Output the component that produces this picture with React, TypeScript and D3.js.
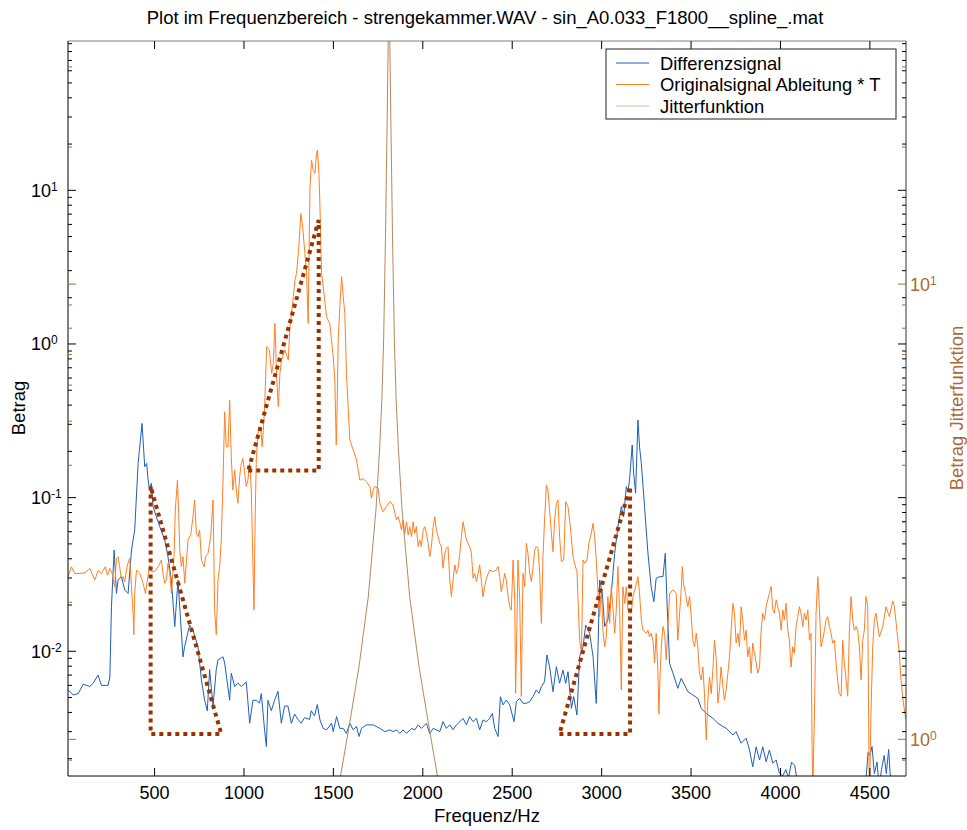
import React from 'react';
import * as d3 from 'd3';

const W = 967;
const H = 830;
const PLOT = { left: 68, right: 906, top: 41, bottom: 776 };

const X_DOMAIN: [number, number] = [16, 4702];
const Y_LEFT_DOMAIN: [number, number] = [0.001543, 93.7];
const Y_RIGHT_DOMAIN: [number, number] = [0.8307, 34.2];

const X_TICKS = [500, 1000, 1500, 2000, 2500, 3000, 3500, 4000, 4500];
const LEFT_DECADES = [-2, -1, 0, 1];
const RIGHT_DECADES = [0, 1];

const TITLE = 'Plot im Frequenzbereich - strengekammer.WAV - sin_A0.033_F1800__spline_.mat';
const X_LABEL = 'Frequenz/Hz';
const Y_LEFT_LABEL = 'Betrag';
const Y_RIGHT_LABEL = 'Betrag Jitterfunktion';
const SERIES_NAMES = ['Differenzsignal', 'Originalsignal Ableitung * T', 'Jitterfunktion'];

// Differenzsignal (left axis)
const DIFF_FREQ = [
  17, 45, 73, 101, 138, 157, 184, 203, 240, 250,
  259, 274, 287, 296, 315, 333, 352, 371, 389, 408,
  430, 445, 456, 464, 473, 482, 492, 510, 529, 557,
  575, 594, 613, 631, 659, 668, 696, 715, 743, 762,
  780, 795, 808, 827, 845, 855, 883, 892, 920, 929,
  948, 966, 985, 1013, 1032, 1050, 1069, 1087, 1097, 1115,
  1125, 1134, 1153, 1171, 1190, 1209, 1227, 1246, 1265, 1283,
  1302, 1320, 1339, 1367, 1376, 1395, 1410,
  1425, 1443, 1462, 1490, 1499, 1518, 1536, 1555, 1573, 1592,
  1611, 1629, 1644, 1657, 1685, 1722, 1760, 1788, 1816, 1834,
  1853, 1871, 1890, 1909, 1937, 1955, 1974, 1992, 2020, 2039,
  2058, 2076, 2095, 2113, 2132, 2151, 2169, 2188, 2207, 2225,
  2244, 2262, 2281, 2300, 2318, 2337, 2356, 2374, 2389, 2402,
  2421, 2434, 2449, 2467, 2486, 2510, 2523, 2542, 2560, 2579,
  2598, 2616, 2635, 2650, 2663, 2681, 2694, 2709, 2728, 2747,
  2765, 2784, 2799, 2812, 2831, 2844, 2862, 2877, 2896, 2911,
  2933, 2952, 2970, 2980, 2989, 3004, 3017, 3035, 3054, 3073,
  3091, 3110, 3123, 3138, 3147, 3156, 3171, 3179, 3190, 3203,
  3212, 3222, 3240, 3259, 3277, 3292, 3305, 3324, 3343, 3356,
  3365, 3380, 3399, 3426, 3445, 3464, 3482, 3510, 3538, 3557,
  3585, 3622, 3650, 3678, 3696, 3734, 3752, 3780, 3808, 3827,
  3845, 3864, 3883, 3901, 3920, 3938, 3957, 3976, 3994, 4013,
  4030, 4045, 4062, 4080, 4095, 4120, 4160, 4200, 4250, 4300,
  4350, 4400, 4450, 4475, 4490, 4500, 4512, 4525, 4540, 4552,
  4565, 4580, 4592, 4605, 4618, 4650, 4700,
];
const DIFF_VAL = [
  0.0056, 0.0052, 0.0053, 0.0061, 0.0059, 0.0062, 0.0070, 0.0060, 0.0060, 0.0068,
  0.0195, 0.0456, 0.0238, 0.0291, 0.0306, 0.0251, 0.0238, 0.0456, 0.0615, 0.167,
  0.304, 0.159, 0.167, 0.130, 0.112, 0.124, 0.0873, 0.0751, 0.0647, 0.053,
  0.0413, 0.0291, 0.0145, 0.0291, 0.0092, 0.0107, 0.0148, 0.0137, 0.0107, 0.0065,
  0.0048, 0.0041, 0.0076, 0.0044, 0.0076, 0.0088, 0.0092, 0.0084, 0.0048, 0.0072,
  0.0059, 0.0062, 0.0059, 0.0063, 0.0034, 0.0048, 0.0048, 0.0046, 0.0053, 0.0031,
  0.0024, 0.0048, 0.0041, 0.0048, 0.0055, 0.0034, 0.0044, 0.0044, 0.0034, 0.0039,
  0.0036, 0.0034, 0.0037, 0.0036, 0.0041, 0.0038, 0.0045,
  0.00357, 0.00315, 0.00308, 0.0034, 0.003, 0.00376, 0.00315, 0.00315, 0.00292, 0.0034,
  0.00308, 0.00324, 0.00279, 0.00315, 0.00332, 0.00332, 0.00315, 0.003, 0.00308, 0.003,
  0.00308, 0.00292, 0.00308, 0.00292, 0.00315, 0.00308, 0.00332, 0.00315, 0.0034, 0.00292,
  0.00315, 0.00308, 0.003, 0.00348, 0.00315, 0.00332, 0.00308, 0.00332, 0.00348, 0.00366,
  0.00332, 0.00376, 0.00348, 0.00366, 0.00308, 0.00357, 0.00348, 0.00366, 0.00394, 0.00315,
  0.00279, 0.00507, 0.00448, 0.00482, 0.00448, 0.00348, 0.0047, 0.00494, 0.00459, 0.00459,
  0.0047, 0.00507, 0.0056, 0.00533, 0.00589, 0.00634, 0.00946, 0.00794, 0.00546, 0.00794,
  0.0062, 0.00755, 0.00618, 0.00736, 0.00425, 0.00507, 0.00385, 0.00923, 0.0107, 0.0148,
  0.0131, 0.00923, 0.00458, 0.0107, 0.0291, 0.0238, 0.0145, 0.016, 0.0238, 0.0434,
  0.0647, 0.0873, 0.0751, 0.118, 0.109, 0.130, 0.22, 0.144, 0.107, 0.32,
  0.214, 0.167, 0.0873, 0.0434, 0.0263, 0.021, 0.0299, 0.0306, 0.0306, 0.0434,
  0.0216, 0.00835, 0.0072, 0.00574, 0.00667, 0.00603, 0.00546, 0.0052, 0.00494, 0.00425,
  0.00394, 0.00366, 0.0034, 0.00324, 0.00316, 0.00285, 0.003, 0.00252, 0.00272, 0.00228,
  0.00177, 0.00239, 0.00196, 0.00239, 0.00191, 0.00228, 0.00187, 0.00196, 0.00161, 0.00155,
  0.0017, 0.0015, 0.0019, 0.0018, 0.0014, 0.0013, 0.0012, 0.0013, 0.0012, 0.0011,
  0.0012, 0.0011, 0.0012, 0.0013, 0.0022, 0.0021, 0.0024, 0.0016, 0.0019, 0.0013,
  0.0017, 0.0021, 0.0016, 0.0023, 0.0013, 0.0011, 0.0012,
];

// Originalsignal Ableitung * T (left axis)
const ORIG_FREQ = [
  17, 35, 54, 82, 110, 138, 166, 184, 203, 225,
  237, 250, 263, 277, 287, 296, 305, 315, 324, 333,
  348, 361, 371, 380, 384, 389, 399, 417, 436, 449,
  464, 473, 482, 501, 520, 538, 547, 557, 566, 575,
  585, 594, 609, 616, 628, 635, 641, 650, 659, 669,
  687, 702, 715, 724, 734, 743, 752, 762, 777, 786,
  799, 814, 827, 836, 845, 855, 864, 873, 883, 892,
  901, 911, 920, 929, 938, 948, 957, 966, 976, 985,
  994, 1004, 1013, 1022, 1032, 1041, 1050, 1056, 1063, 1069,
  1078, 1093, 1102, 1115,
  1127, 1142, 1155, 1164, 1173, 1182, 1192, 1201, 1210, 1229,
  1238, 1248, 1257, 1266, 1276, 1285, 1294, 1307, 1318, 1328,
  1341, 1350, 1359, 1369, 1378, 1387, 1397, 1406, 1411, 1419,
  1424, 1434, 1443, 1462, 1480, 1499, 1508, 1516, 1521, 1527,
  1536, 1546, 1555, 1564, 1573, 1592,
  1611, 1629, 1648, 1667, 1685, 1704, 1713, 1722, 1732, 1750,
  1760, 1778, 1797, 1816, 1834, 1853, 1862, 1871, 1881, 1890,
  1899, 1909, 1918, 1927, 1937, 1946, 1955, 1964, 1974, 1983,
  1992, 2002, 2011, 2020, 2030, 2039, 2048, 2058, 2067, 2076,
  2095, 2104, 2113, 2123, 2132, 2141, 2151, 2160, 2169, 2179,
  2188, 2197, 2207, 2216, 2225, 2244, 2262, 2272, 2281, 2290,
  2300, 2309, 2318, 2328, 2337, 2346, 2356, 2374, 2393, 2411,
  2421, 2430, 2439, 2449, 2458, 2467, 2477, 2486, 2495, 2505,
  2514, 2519, 2527, 2532, 2542, 2551, 2560, 2570, 2579, 2588,
  2598, 2607, 2616, 2626, 2635, 2644, 2654, 2663, 2672, 2681,
  2691, 2700, 2709, 2719, 2728, 2737, 2747, 2756, 2765,
  2775, 2788, 2799, 2812, 2825, 2840, 2849, 2862, 2877, 2887,
  2896, 2905, 2918, 2929, 2942, 2952, 2961, 2970, 2980, 2989,
  2998, 3007, 3017, 3026, 3035, 3045, 3054, 3063, 3073, 3082,
  3091, 3101, 3110, 3119, 3129, 3138, 3147, 3156, 3166, 3175,
  3190, 3203, 3212, 3222, 3231, 3250, 3259, 3268, 3277, 3287,
  3296, 3305, 3315, 3320, 3328, 3335, 3343, 3352, 3361, 3371,
  3380, 3399, 3417, 3426, 3436, 3445, 3451, 3458, 3469, 3482,
  3492, 3501, 3510, 3520, 3529, 3538, 3547, 3557, 3566, 3575,
  3585, 3594, 3603, 3613, 3622, 3631, 3641, 3650, 3659, 3668,
  3678, 3687, 3696, 3706, 3715, 3724, 3734, 3743, 3752, 3762,
  3771, 3780, 3789, 3799, 3808, 3817, 3827, 3836, 3845, 3855,
  3864, 3873, 3883, 3892, 3901, 3911, 3920, 3929, 3938, 3948,
  3957, 3966, 3976, 3985, 3994, 4004, 4013, 4022, 4031, 4041,
  4050, 4059, 4069, 4078, 4087, 4097, 4106, 4115, 4125, 4134,
  4143, 4153, 4162, 4171, 4177, 4181, 4186, 4190, 4199, 4209,
  4218, 4227, 4236, 4246, 4255, 4264, 4274, 4283, 4292, 4302,
  4311, 4320, 4329, 4339, 4348, 4357, 4367, 4376, 4385, 4395,
  4404, 4413, 4423, 4432, 4441, 4451, 4460, 4469, 4478, 4488,
  4493, 4497, 4503, 4506, 4516, 4525, 4534, 4553, 4572, 4590,
  4609, 4628, 4637, 4655, 4665, 4674, 4683, 4696, 4702,
];
const ORIG_VAL = [
  0.0306, 0.0355, 0.0321, 0.0321, 0.0324, 0.0346, 0.0291, 0.0335, 0.0321, 0.0355,
  0.0313, 0.0346, 0.0321, 0.0263, 0.0402, 0.0413, 0.0355, 0.0291, 0.0306, 0.0284,
  0.0364, 0.0402, 0.0263, 0.0177, 0.0128, 0.0238, 0.0338, 0.0321, 0.0277, 0.0238,
  0.0313, 0.0364, 0.033, 0.033, 0.0355, 0.0392, 0.0321, 0.0277, 0.0291, 0.0373,
  0.0321, 0.0238, 0.0413, 0.083, 0.130, 0.079, 0.0456, 0.0355, 0.0413, 0.0277,
  0.053, 0.0571, 0.0751, 0.0965, 0.0585, 0.0557, 0.0615, 0.0392, 0.0355, 0.0413,
  0.0434, 0.0557, 0.0965, 0.0186, 0.0128, 0.0291, 0.0355, 0.053, 0.130, 0.362,
  0.214, 0.214, 0.431, 0.185, 0.112, 0.151, 0.112, 0.0918, 0.137, 0.167,
  0.18, 0.144, 0.118, 0.130, 0.167, 0.112, 0.0373, 0.0186, 0.079, 0.176,
  0.262, 0.289, 0.214, 0.372,
  0.96, 0.912, 0.643, 0.747, 1.36, 0.643, 0.39, 0.643, 0.785, 0.912,
  0.847, 0.785, 1.29, 1.58, 2.03, 2.6, 2.88, 4.29, 7.06, 5.78,
  3.88, 2.88, 1.36, 10.5, 15.7, 13.5, 12.9, 17.4, 18.3, 12.9,
  8.63, 2.88, 2.36, 1.5, 1.36, 0.826, 0.582, 0.22, 0.39, 1.06,
  1.75, 2.74, 2.03, 1.58, 0.643, 0.237,
  0.204, 0.176, 0.130, 0.133, 0.127, 0.118, 0.0989, 0.112, 0.118, 0.115,
  0.0918, 0.081, 0.0873, 0.0942, 0.0895, 0.0715, 0.0751, 0.0697, 0.0615, 0.0715,
  0.0585, 0.0697, 0.0571, 0.0647, 0.0557, 0.0697, 0.0585, 0.0647, 0.048, 0.053,
  0.048, 0.0615, 0.0647, 0.0585, 0.0504, 0.0413, 0.048, 0.0647, 0.0751, 0.0615,
  0.0504, 0.048, 0.0347, 0.0434, 0.0468, 0.048, 0.0291, 0.0227, 0.0291, 0.0365,
  0.0321, 0.0347, 0.0434, 0.0557, 0.0697, 0.053, 0.048, 0.0434, 0.0299, 0.0321,
  0.0284, 0.0321, 0.0365, 0.0284, 0.0227, 0.0264, 0.0299, 0.0338, 0.033, 0.0338,
  0.0356, 0.0306, 0.0244, 0.0277, 0.0321, 0.0291, 0.0227, 0.0195, 0.0186, 0.0393,
  0.0216, 0.00534, 0.016, 0.0393, 0.0216, 0.00507, 0.0321, 0.0264, 0.0504, 0.0434,
  0.0321, 0.0284, 0.0347, 0.0456, 0.048, 0.0468, 0.0321, 0.0152, 0.0413, 0.0715,
  0.121, 0.112, 0.083, 0.0585, 0.0445, 0.0715, 0.0918, 0.0964, 0.0557,
  0.0383, 0.0393, 0.094, 0.0873, 0.0647, 0.0413, 0.0373, 0.033, 0.0118, 0.0097,
  0.0393, 0.0373, 0.0393, 0.0504, 0.0585, 0.068, 0.0557, 0.0393, 0.0238, 0.0168,
  0.0263, 0.0137, 0.0107, 0.0124, 0.0227, 0.0152, 0.0263, 0.0195, 0.0131, 0.0186,
  0.0356, 0.0177, 0.0056, 0.0263, 0.0205, 0.0263, 0.0186, 0.0177, 0.0177, 0.0227,
  0.0263, 0.0306, 0.0238, 0.016, 0.0137, 0.0131, 0.0137, 0.0124, 0.0131, 0.0118,
  0.0084, 0.0131, 0.0072, 0.0039, 0.0076, 0.0113, 0.0145, 0.0131, 0.0088, 0.0145,
  0.0238, 0.0251, 0.0238, 0.0118, 0.0177, 0.0251, 0.0356, 0.0275, 0.0238, 0.0195,
  0.0227, 0.0168, 0.0118, 0.0107, 0.0131, 0.0107, 0.0072, 0.0065, 0.0079, 0.0053,
  0.00265, 0.0048, 0.0068, 0.0053, 0.0076, 0.0118, 0.0088, 0.0046, 0.0056, 0.0079,
  0.0059, 0.0048, 0.0056, 0.0072, 0.0092, 0.0137, 0.0205, 0.0177, 0.0113, 0.0131,
  0.0107, 0.0195, 0.016, 0.0118, 0.0137, 0.0092, 0.0107, 0.0072, 0.0113, 0.0097,
  0.0084, 0.0072, 0.0079, 0.0137, 0.0177, 0.016, 0.0195, 0.0216, 0.0238, 0.0263,
  0.0186, 0.0177, 0.0216, 0.0195, 0.0177, 0.0137, 0.0186, 0.016, 0.0205, 0.0137,
  0.0118, 0.0079, 0.0107, 0.0097, 0.0145, 0.0168, 0.0195, 0.0177, 0.0145, 0.0177,
  0.016, 0.0186, 0.0118, 0.0131, 0.0024, 0.0011, 0.0024, 0.0039, 0.0177, 0.0306,
  0.0186, 0.0107, 0.0118, 0.0137, 0.016, 0.0168, 0.0145, 0.0131, 0.0113, 0.0118,
  0.0084, 0.0065, 0.0053, 0.0051, 0.0118, 0.0084, 0.0065, 0.0051, 0.0131, 0.0227,
  0.016, 0.0137, 0.0145, 0.0137, 0.0107, 0.0065, 0.0118, 0.0137, 0.0227, 0.0195,
  0.0039, 0.0011, 0.0024, 0.0039, 0.0107, 0.016, 0.0177, 0.0124, 0.0145, 0.0195,
  0.0168, 0.0213, 0.0195, 0.0124, 0.0097, 0.0065, 0.0051, 0.0039, 0.0036,
];

// Jitterfunktion (right axis)
const JITTER_FREQ = [
  1511, 1541, 1591, 1643, 1695, 1738, 1758, 1771, 1781, 1791, 1799, 1806,
  1811,
  1816, 1823, 1831, 1841, 1851, 1864, 1884, 1927, 1979, 2031, 2081, 2111,
];
const JITTER_VAL = [
  0.76, 0.835, 1.086, 1.442, 2.054, 3.19, 4.32, 5.56, 7.54, 12.5, 20.7, 32.7,
  45,
  32.7, 20.7, 12.5, 7.54, 5.56, 4.32, 3.19, 2.054, 1.442, 1.086, 0.835, 0.76,
];

// Dotted slope markers (left axis), drawn as closed triangles
const MARKERS = [
  { freq: [478, 478, 873, 478], val: [0.118, 0.0029, 0.0029, 0.118] },
  { freq: [1024, 1418, 1418, 1024], val: [0.15, 0.15, 6.4, 0.15] },
  { freq: [2764, 3159, 3159, 2764], val: [0.0029, 0.0029, 0.118, 0.0029] },
];

const COLORS = {
  diff: '#1f5fb5',
  orig: '#ff7f22',
  jitter: '#b8875a',
  jitterLegend: '#d6bba0',
  rightAxis: '#a86a34',
  marker: '#993300',
};

const FONT = '"Liberation Sans", Arial, Helvetica, sans-serif';
const TICK_FONT = 18;
const LABEL_FONT = 18.5;

export default function App() {
  const x = d3.scaleLinear().domain(X_DOMAIN).range([PLOT.left, PLOT.right]);
  const yL = d3.scaleLog().domain(Y_LEFT_DOMAIN).range([PLOT.bottom, PLOT.top]);
  const yR = d3.scaleLog().domain(Y_RIGHT_DOMAIN).range([PLOT.bottom, PLOT.top]);

  const lineL = d3
    .line<[number, number]>()
    .x((d) => x(d[0]))
    .y((d) => yL(d[1]));
  const lineR = d3
    .line<[number, number]>()
    .x((d) => x(d[0]))
    .y((d) => yR(d[1]));

  const diffPath = lineL(d3.zip(DIFF_FREQ, DIFF_VAL) as [number, number][]) || '';
  const origPath = lineL(d3.zip(ORIG_FREQ, ORIG_VAL) as [number, number][]) || '';
  const jitterPath = lineR(d3.zip(JITTER_FREQ, JITTER_VAL) as [number, number][]) || '';

  // log-axis tick positions: 2..9 subdivisions of each decade inside the domain
  const minorTicks = (domain: [number, number]) => {
    const out: number[] = [];
    const lo = Math.floor(Math.log10(domain[0]));
    const hi = Math.ceil(Math.log10(domain[1]));
    for (let k = lo; k <= hi; k++) {
      for (let m = 2; m <= 9; m++) {
        const v = m * Math.pow(10, k);
        if (v >= domain[0] && v <= domain[1]) out.push(v);
      }
    }
    return out;
  };
  const leftMinor = minorTicks(Y_LEFT_DOMAIN);
  const rightMinor = minorTicks(Y_RIGHT_DOMAIN);

  const MAJ = 8;
  const MIN = 4;

  return (
    <svg
      width={W}
      height={H}
      viewBox={`0 0 ${W} ${H}`}
      style={{ position: 'absolute', left: 0, top: 0, background: '#fff' }}
      fontFamily={FONT}
    >
      <rect x={0} y={0} width={W} height={H} fill="#fff" />
      <defs>
        <clipPath id="plot-clip">
          <rect x={PLOT.left} y={PLOT.top} width={PLOT.right - PLOT.left} height={PLOT.bottom - PLOT.top} />
        </clipPath>
      </defs>

      <text x={485} y={24} fontSize={18.5} textAnchor="middle" fill="#000">
        {TITLE}
      </text>

      {/* data */}
      <g clipPath="url(#plot-clip)" fill="none">
        <path d={diffPath} stroke={COLORS.diff} strokeWidth={1} />
        <path d={origPath} stroke={COLORS.orig} strokeWidth={1} />
        <path d={jitterPath} stroke={COLORS.jitter} strokeWidth={1} />
        {MARKERS.map((m, i) => (
          <path
            key={i}
            d={lineL(d3.zip(m.freq, m.val) as [number, number][]) || ''}
            stroke={COLORS.marker}
            strokeWidth={4}
            strokeDasharray="4 4"
          />
        ))}
      </g>

      {/* frame */}
      <line x1={PLOT.left} x2={PLOT.right} y1={PLOT.top} y2={PLOT.top} stroke="#808080" />
      <line x1={PLOT.left} x2={PLOT.right} y1={PLOT.bottom} y2={PLOT.bottom} stroke="#000" />
      <line x1={PLOT.left} x2={PLOT.left} y1={PLOT.top} y2={PLOT.bottom} stroke="#000" />
      <line x1={PLOT.right} x2={PLOT.right} y1={PLOT.top} y2={PLOT.bottom} stroke="#333" />

      {/* x ticks */}
      {X_TICKS.map((t) => (
        <g key={t}>
          <line x1={x(t)} x2={x(t)} y1={PLOT.bottom} y2={PLOT.bottom - MAJ} stroke="#000" />
          <line x1={x(t)} x2={x(t)} y1={PLOT.top} y2={PLOT.top + MAJ} stroke="#000" />
          <text x={x(t)} y={798.5} fontSize={TICK_FONT} textAnchor="middle" fill="#000">
            {t}
          </text>
        </g>
      ))}

      {/* left axis ticks, mirrored on the right edge */}
      {LEFT_DECADES.map((e) => {
        const yy = yL(Math.pow(10, e));
        return (
          <g key={e}>
            <line x1={PLOT.left} x2={PLOT.left + MAJ} y1={yy} y2={yy} stroke="#000" />
            <line x1={PLOT.right} x2={PLOT.right - MAJ} y1={yy} y2={yy} stroke="#000" />
            <text x={31} y={yy + 6.5} fontSize={TICK_FONT} fill="#000">
              10
              <tspan dy={-6} fontSize={12}>
                {e}
              </tspan>
            </text>
          </g>
        );
      })}
      {leftMinor.map((v) => (
        <g key={`lm${v}`}>
          <line x1={PLOT.left} x2={PLOT.left + MIN} y1={yL(v)} y2={yL(v)} stroke="#000" />
          <line x1={PLOT.right} x2={PLOT.right - MIN} y1={yL(v)} y2={yL(v)} stroke="#000" />
        </g>
      ))}

      {/* right axis ticks, mirrored on the left edge */}
      {RIGHT_DECADES.map((e) => {
        const yy = yR(Math.pow(10, e));
        return (
          <g key={`r${e}`}>
            <line x1={PLOT.left} x2={PLOT.left + MAJ} y1={yy} y2={yy} stroke={COLORS.rightAxis} />
            <line x1={PLOT.right} x2={PLOT.right - MAJ} y1={yy} y2={yy} stroke={COLORS.rightAxis} />
            <text x={910} y={yy + 6.5} fontSize={TICK_FONT} fill={COLORS.rightAxis}>
              10
              <tspan dy={-6} fontSize={12}>
                {e}
              </tspan>
            </text>
          </g>
        );
      })}
      {rightMinor.map((v) => (
        <g key={`rm${v}`}>
          <line x1={PLOT.left} x2={PLOT.left + MIN} y1={yR(v)} y2={yR(v)} stroke={COLORS.rightAxis} />
          <line x1={PLOT.right} x2={PLOT.right - MIN} y1={yR(v)} y2={yR(v)} stroke={COLORS.rightAxis} />
        </g>
      ))}

      {/* axis labels */}
      <text x={487} y={822} fontSize={LABEL_FONT} textAnchor="middle" fill="#000">
        {X_LABEL}
      </text>
      <text transform="translate(25,408) rotate(-90)" fontSize={LABEL_FONT} textAnchor="middle" fill="#000">
        {Y_LEFT_LABEL}
      </text>
      <text transform="translate(963,408) rotate(-90)" fontSize={LABEL_FONT} textAnchor="middle" fill={COLORS.rightAxis}>
        {Y_RIGHT_LABEL}
      </text>

      {/* legend */}
      <g>
        <rect x={606} y={49} width={290} height={70} fill="#fff" stroke="#222" strokeWidth={1} />
        {SERIES_NAMES.map((name, i) => {
          const yy = 63 + i * 21.5;
          const c = [COLORS.diff, COLORS.orig, COLORS.jitterLegend][i];
          return (
            <g key={name}>
              <line x1={616} x2={649} y1={yy} y2={yy} stroke={c} strokeWidth={1} />
              <text x={660} y={yy + 6.5} fontSize={18.4} fill="#000">
                {name}
              </text>
            </g>
          );
        })}
      </g>
    </svg>
  );
}
